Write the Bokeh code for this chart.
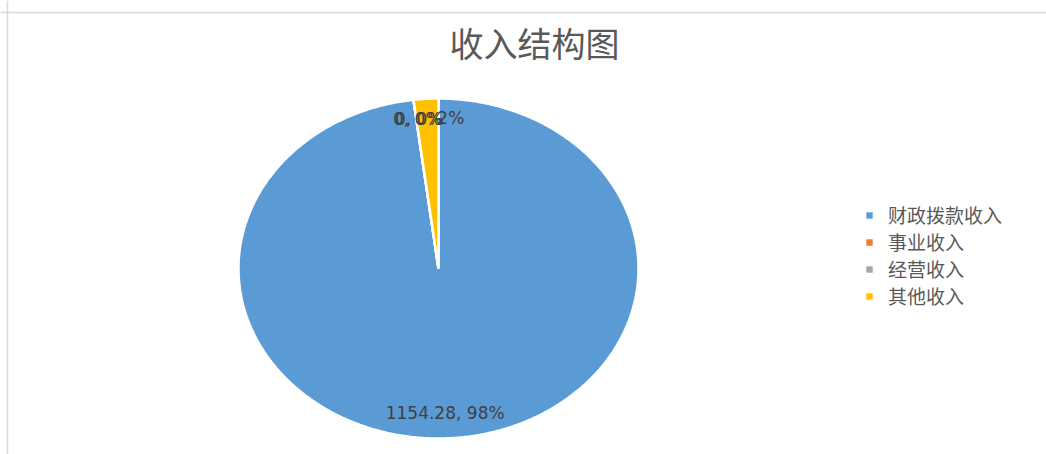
import math
from bokeh.plotting import figure
from bokeh.models import Range1d, Legend, LegendItem, Label, Span, ColumnDataSource
from bokeh.core.properties import value
from bokeh.embed import file_html
from bokeh.resources import INLINE

# ---- data ----
title_text = "收入结构图"
categories = ["财政拨款收入", "事业收入", "经营收入", "其他收入"]
amounts = [1154.28, 0, 0, 23.5]
label_texts = ["1154.28, 98%", "0, 0%", "0, 0%", "2%"]
colors = ["#5B9BD5", "#ED7D31", "#A5A5A5", "#FFC000"]

W, H = 1046, 454
p = figure(width=W, height=H, output_backend="svg", toolbar_location=None,
           x_range=Range1d(0, W), y_range=Range1d(0, H), min_border=0)
p.axis.visible = False
p.grid.visible = False
p.outline_line_color = None
p.background_fill_color = "white"

# chart area border (top and left edges visible)
p.add_layout(Span(location=H - 12, dimension="width", line_color="#d9d9d9", line_width=1.5))
p.add_layout(Span(location=7, dimension="height", line_color="#d9d9d9", line_width=1.5))

# pie (elliptical, starting at 12 o'clock, clockwise)
cx, cy = 438, H - 268
rx, ry = 200, 170
total = sum(amounts)
start = 0.0
lx, ly = [], []
for i, v in enumerate(amounts):
    frac = v / total
    end = start + frac * 2 * math.pi
    n = max(2, int(frac * 720) + 2)
    xs = [cx]
    ys = [cy]
    for k in range(n + 1):
        t = start + (end - start) * k / n
        xs.append(cx + rx * math.sin(t))
        ys.append(cy + ry * math.cos(t))
    p.patch(xs, ys, fill_color=colors[i], line_color="white", line_width=2.5)
    mid = (start + end) / 2
    lx.append(cx + 0.85 * rx * math.sin(mid))
    ly.append(cy + 0.85 * ry * math.cos(mid))
    start = end

# legend swatches (renderers with no visible data, used only for the legend)
nan = float("nan")
legend_renderers = [p.quad(left=[nan], right=[nan], top=[nan], bottom=[nan],
                           fill_color=c, line_color=None)
                    for c in colors]

# data labels
xoff = [-4, 0, 2, 23]
yoff = [0, -6, -6, -6]
src = ColumnDataSource(dict(x=lx, y=ly, t=label_texts, xo=xoff, yo=yoff))
p.text(x="x", y="y", text="t", x_offset="xo", y_offset="yo", source=src,
       text_align="center", text_baseline="middle",
       text_font=value("DejaVu Sans"), text_font_size="17px", text_color="#404040")

# title
p.add_layout(Label(x=534, y=H - 42, text=title_text, text_align="center",
                   text_baseline="middle", text_font="Noto Sans CJK SC",
                   text_font_size="34px", text_color="#595959"))

# legend
legend = Legend(items=[LegendItem(label=c, renderers=[r]) for c, r in zip(categories, legend_renderers)],
                location=(865, 145), orientation="vertical",
                glyph_width=8, glyph_height=8, label_standoff=15,
                label_text_font="Noto Sans CJK SC", label_text_font_size="19px",
                label_text_color="#595959", label_height=20, spacing=0,
                padding=0, margin=0, border_line_color=None,
                background_fill_alpha=0)
p.add_layout(legend, "center")

open("out.html", "w").write(file_html(p, INLINE))
